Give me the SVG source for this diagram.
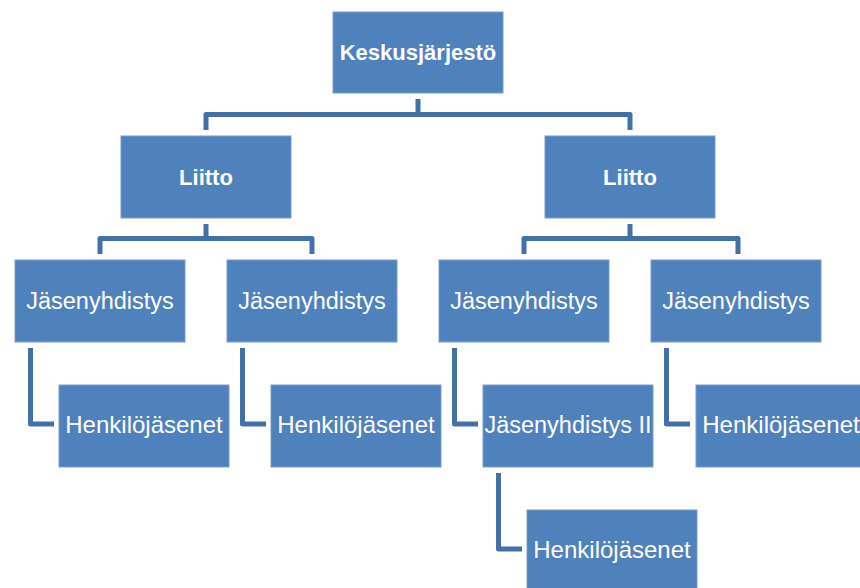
<svg xmlns="http://www.w3.org/2000/svg" width="860" height="588" viewBox="0 0 860 588">
<style>
.box{fill:#4F81BD;stroke:#7A9CCB;stroke-width:1}
.t{font-family:"Liberation Sans",Arial,sans-serif;fill:#fff;text-anchor:middle}
.b{font-weight:bold;font-size:22px}
.r{font-size:23.5px}
.h{font-size:24px}
.c path{fill:none;stroke:#4470A8;stroke-width:5;stroke-linejoin:round;stroke-linecap:butt}
</style>
<rect width="860" height="588" fill="#fff"/>
<g class="c" id="connectors">
<path d="M418 99 V114.5"/>
<path d="M206 130 V114.5 H630 V130"/>
<path d="M206 224 V238.5"/>
<path d="M100 254 V238.5 H312 V254"/>
<path d="M630 224 V238.5"/>
<path d="M524 254 V238.5 H738 V254"/>
<path d="M30.5 348 V424 H54"/>
<path d="M242.5 348 V424 H266"/>
<path d="M454.5 348 V424 H478"/>
<path d="M666.5 348 V424 H690"/>
<path d="M498.5 473 V549 H522"/>
</g>
<g id="n0"><rect class="box" x="333" y="12" width="170" height="81"/><text class="t b" x="418" y="60">Keskusjärjestö</text></g>
<g id="n1"><rect class="box" x="121" y="136" width="170" height="82"/><text class="t b" x="206" y="185">Liitto</text></g>
<g id="n2"><rect class="box" x="545" y="136" width="170" height="82"/><text class="t b" x="630" y="185">Liitto</text></g>
<g id="n3"><rect class="box" x="15" y="260" width="170" height="82"/><text class="t r" x="100" y="309">Jäsenyhdistys</text></g>
<g id="n4"><rect class="box" x="227" y="260" width="170" height="82"/><text class="t r" x="312" y="309">Jäsenyhdistys</text></g>
<g id="n5"><rect class="box" x="439" y="260" width="170" height="82"/><text class="t r" x="524" y="309">Jäsenyhdistys</text></g>
<g id="n6"><rect class="box" x="651" y="260" width="170" height="82"/><text class="t r" x="736" y="309">Jäsenyhdistys</text></g>
<g id="n7"><rect class="box" x="59" y="385" width="170" height="82"/><text class="t h" x="144" y="433">Henkilöjäsenet</text></g>
<g id="n8"><rect class="box" x="271" y="385" width="170" height="82"/><text class="t h" x="356" y="433">Henkilöjäsenet</text></g>
<g id="n9"><rect class="box" x="483" y="385" width="170" height="82"/><text class="t r" x="568" y="433">Jäsenyhdistys II</text></g>
<g id="n10"><rect class="box" x="696" y="385" width="170" height="82"/><text class="t h" x="781" y="433">Henkilöjäsenet</text></g>
<g id="n11"><rect class="box" x="527" y="510" width="170" height="82"/><text class="t h" x="612" y="558">Henkilöjäsenet</text></g>
</svg>
